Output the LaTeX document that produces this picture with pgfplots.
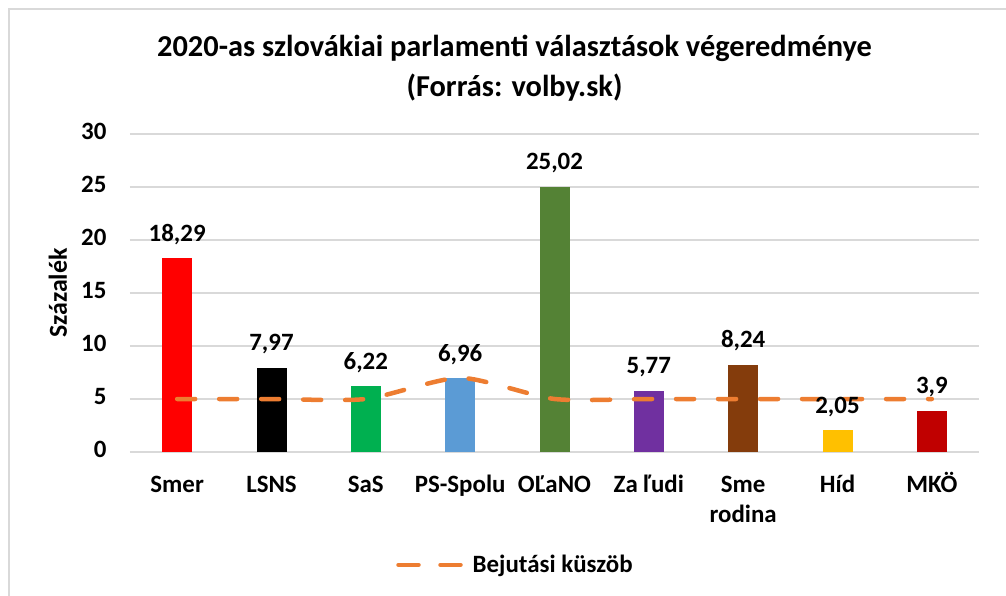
\documentclass[border=0pt]{standalone}
\usepackage{pgfplots}
\pgfplotsset{compat=1.18}
\usepackage{fontspec}
\setmainfont{Carlito}
\definecolor{cSmer}{HTML}{FF0000}
\definecolor{cLSNS}{HTML}{000000}
\definecolor{cSaS}{HTML}{00B050}
\definecolor{cPS}{HTML}{5B9BD5}
\definecolor{cOL}{HTML}{548235}
\definecolor{cZa}{HTML}{7030A0}
\definecolor{cSme}{HTML}{843C0C}
\definecolor{cHid}{HTML}{FFC000}
\definecolor{cMKO}{HTML}{C00000}
\definecolor{cLine}{HTML}{ED7D31}
\definecolor{cGrid}{HTML}{D9D9D9}
\begin{document}
\begin{tikzpicture}
\useasboundingbox (-130bp,-144bp) rectangle (876bp,452bp);
\draw[cGrid, line width=1.5bp] (-121bp,-144bp) -- (-121bp,443bp) -- (876bp,443bp);
\begin{axis}[
  at={(0,0)}, anchor=south west,
  scale only axis, width=849bp, height=318bp,
  xmin=-0.5, xmax=8.5, ymin=0, ymax=30,
  ytick={0,5,...,30},
  xtick={0,...,8},
  xticklabels={Smer,LSNS,SaS,PS-Spolu,OĽaNO,Za ľudi,{Sme\\rodina},Híd,MKÖ},
  axis line style={draw=none},
  axis x line*=bottom,
  ymajorgrids, grid style={cGrid, line width=1.3bp},
  major tick length=0pt,
  /pgf/number format/assume math mode=true,
  tick label style={font=\fontsize{25}{30}\selectfont\bfseries},
  xticklabel style={align=center, anchor=north, yshift=-16bp},
  typeset ticklabels with strut,
  yticklabel style={xshift=-20bp},
  ylabel={Százalék},
  ylabel style={font=\fontsize{26}{30}\selectfont\bfseries, at={(-0.07,0.5)}},
  bardata/.style={ybar, bar width=30bp, draw=none, forget plot, nodes near coords,
    every node near coord/.append style={font=\fontsize{25}{30}\selectfont\bfseries, color=black, yshift=10bp}},
  /pgf/number format/.cd, use comma, fixed, precision=2,
  /pgfplots/.cd,
  legend style={draw=none, fill=none, at={(0.454,-0.355)}, anchor=center,
    font=\fontsize{25}{30}\selectfont\bfseries, legend cell align=left},
  legend image code/.code={\draw[#1, dash pattern=on 20bp off 22bp] (0bp,0bp) -- (62bp,0bp);},
]
\addplot[bardata, fill=cSmer] coordinates {(0,18.29)};
\addplot[bardata, fill=cLSNS] coordinates {(1,7.97)};
\addplot[bardata, fill=cSaS] coordinates {(2,6.22)};
\addplot[bardata, fill=cPS] coordinates {(3,6.96)};
\addplot[bardata, fill=cOL] coordinates {(4,25.02)};
\addplot[bardata, fill=cZa] coordinates {(5,5.77)};
\addplot[bardata, fill=cSme] coordinates {(6,8.24)};
\addplot[bardata, fill=cHid] coordinates {(7,2.05)};
\addplot[bardata, fill=cMKO] coordinates {(8,3.9)};
\addplot[cLine, line width=4.5bp, line cap=round, dash pattern=on 18bp off 24bp, smooth, tension=0.4, mark=none]
  coordinates {(0,5) (1,5) (2,5) (3,7) (4,5) (5,5) (6,5) (7,5) (8,5)};
\addlegendentry{\hspace{8bp}Bejutási küszöb}
\end{axis}
\node[font=\fontsize{30.5}{40}\selectfont\bfseries, align=center] at (384.5bp,384bp) {2020-as szlovákiai parlamenti választások végeredménye\\(Forrás: volby.sk)};
\end{tikzpicture}
\end{document}
